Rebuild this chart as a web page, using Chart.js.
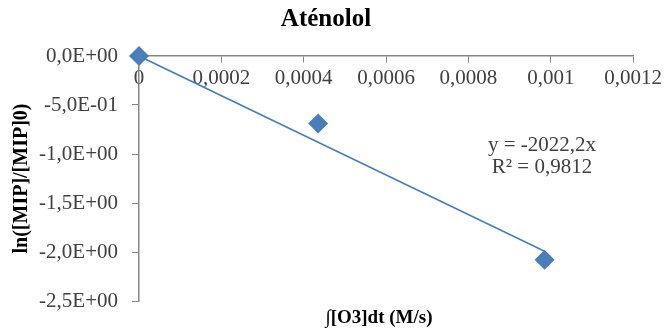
<!DOCTYPE html>
<html>
<head>
<meta charset="utf-8">
<script src="https://cdn.jsdelivr.net/npm/chart.js@4/dist/chart.umd.min.js"></script>
<style>
  html, body { margin: 0; padding: 0; background: #fff; }
  #wrap { width: 666px; height: 330px; }
</style>
</head>
<body>
<div id="wrap"><canvas id="myChart"></canvas></div>
<script>
var xValues = [0, 0.000435, 0.000985];
var yValues = [0, -0.69, -2.08];
var slope = -2022.2;
var eqText = ['y = -2022,2x', 'R\u00b2 = 0,9812'];
var titleText = 'Aténolol';
var xTitle = '\u222b[O3]dt (M/s)';
var yTitle = 'ln([MIP]/[MIP]0)';

var points = xValues.map(function (x, i) { return { x: x, y: yValues[i] }; });
var xEnd = Math.max.apply(null, xValues);
var trend = [{ x: 0, y: 0 }, { x: xEnd, y: slope * xEnd }];

var blue = '#4A7EBB';
var axisGray = '#868686';
var serif = 'Liberation Serif, Times New Roman, serif';

var textPlugin = {
	id: 'texts',
	afterDraw: function (chart) {
		var ctx = chart.ctx;
		var area = chart.chartArea;
		ctx.save();
		ctx.fillStyle = '#000';
		ctx.textAlign = 'center';
		ctx.textBaseline = 'middle';
		ctx.font = 'bold 25px ' + serif;
		ctx.fillText(titleText, 326, 20);
		ctx.font = 'bold 19px ' + serif;
		ctx.fillText(xTitle, 379, 318);
		ctx.fillStyle = '#404040';
		ctx.font = '21px ' + serif;
		ctx.fillText(eqText[0], area.left + 403, 145);
		ctx.fillText(eqText[1], area.left + 403, 167);
		ctx.restore();
	}
};

var myChart = document.getElementById('myChart').getContext('2d');

var chart = new Chart(myChart, {
	type: 'scatter',
	data: {
		datasets: [
		{
			label: 'data',
			data: points,
			pointStyle: 'rectRot',
			pointRadius: 10,
			pointHoverRadius: 10,
			backgroundColor: blue,
			borderColor: blue,
			borderWidth: 0,
			clip: false,
			order: 0
		},
		{
			label: 'trend',
			type: 'line',
			data: trend,
			borderColor: blue,
			borderWidth: 1.6,
			pointRadius: 0,
			fill: false,
			order: 1
		}
	]
	},
	options: {
		responsive: true,
		maintainAspectRatio: false,
		animation: false,
		layout: {
			padding: { top: 56, right: 30, bottom: 29, left: 0 }
		},
		plugins: {
			legend: { display: false },
			title: { display: false },
			tooltip: { enabled: false }
		},
		scales: {
			x: {
				type: 'linear',
				position: { y: 0 },
				min: 0,
				max: 0.0012,
				grid: {
					display: true,
					drawOnChartArea: false,
					drawTicks: true,
					tickLength: 6,
					color: axisGray
				},
				border: { color: axisGray, width: 1.5 },
				ticks: {
					stepSize: 0.0002,
					padding: 4,
					color: '#404040',
					font: { family: serif, size: 21 },
					maxRotation: 0,
					autoSkip: false,
					callback: function (v) {
						return Number(v.toFixed(4)).toString().replace('.', ',');
					}
				}
			},
			y: {
				type: 'linear',
				position: 'left',
				min: -2.5,
				max: 0,
				afterFit: function (scale) { scale.width = 139; },
				grid: {
					display: true,
					drawOnChartArea: false,
					drawTicks: true,
					tickLength: 7,
					color: axisGray
				},
				border: { color: axisGray, width: 1.5 },
				title: {
					display: true,
					text: yTitle,
					color: '#000',
					font: { family: serif, size: 20, weight: 'bold' },
					padding: { top: 10, bottom: 0 }
				},
				ticks: {
					stepSize: 0.5,
					padding: 14,
					color: '#404040',
					font: { family: serif, size: 21 },
					callback: function (v) {
						var s = v.toExponential(1).replace('.', ',');
						var parts = s.split('e');
						var exp = parseInt(parts[1], 10);
						var sign = exp < 0 ? '-' : '+';
						var e = Math.abs(exp);
						return parts[0] + 'E' + sign + (e < 10 ? '0' + e : e);
					}
				}
			}
		}
	},
	plugins: [textPlugin]
});
</script>
</body>
</html>
